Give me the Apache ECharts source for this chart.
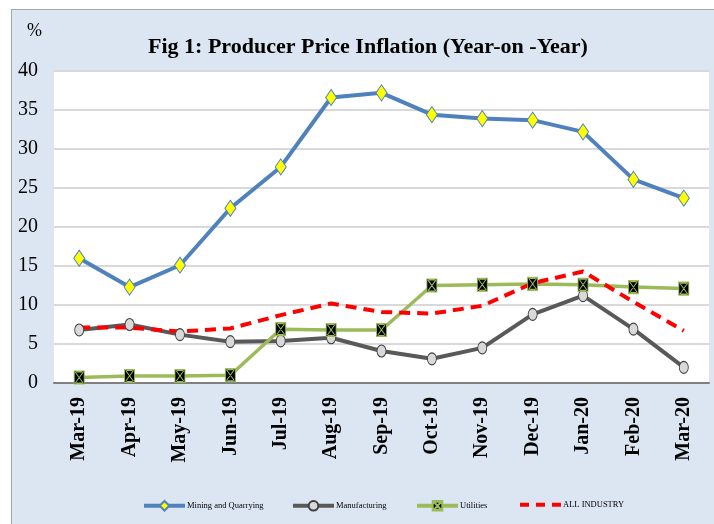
<!DOCTYPE html>
<html>
<head>
<meta charset="utf-8">
<script src="https://cdn.jsdelivr.net/npm/echarts@6/dist/echarts.min.js"></script>
<style>
html,body{margin:0;padding:0;background:#fff;}
#frame{position:absolute;left:11px;top:9px;width:703px;height:515px;background:#dce6f2;border-left:1.5px solid #a6a6a6;border-top:1.5px solid #a6a6a6;box-sizing:border-box;}
#chart{position:absolute;left:0;top:0;width:714px;height:524px;}
</style>
</head>
<body>
<div id="frame"></div>
<div id="chart"></div>
<script>
var categories = ['Mar-19','Apr-19','May-19','Jun-19','Jul-19','Aug-19','Sep-19','Oct-19','Nov-19','Dec-19','Jan-20','Feb-20','Mar-20'];
var mining = [16.0, 12.3, 15.1, 22.4, 27.7, 36.6, 37.2, 34.4, 33.9, 33.7, 32.2, 26.1, 23.7];
var manufacturing = [6.8, 7.5, 6.2, 5.3, 5.4, 5.8, 4.1, 3.1, 4.5, 8.8, 11.2, 6.9, 2.0];
var utilities = [0.7, 0.9, 0.9, 1.0, 6.9, 6.8, 6.8, 12.5, 12.6, 12.7, 12.6, 12.3, 12.1];
var allIndustry = [7.1, 7.1, 6.6, 7.0, 8.7, 10.2, 9.1, 8.9, 9.9, 12.8, 14.3, 10.4, 6.7];
var yTicks = [0, 5, 10, 15, 20, 25, 30, 35, 40];
var seriesNames = ['Mining and Quarrying', 'Manufacturing', 'Utilities', 'ALL INDUSTRY'];

var chart = echarts.init(document.getElementById('chart'), null, {renderer: 'canvas'});
var xSym = 'path://M0,0 L10,0 L10,13 L0,13 Z M1,1 L9,12 M9,1 L1,12 M2,1 L8,1 M2,12 L8,12';
var legendLefts = [137, 286, 410, 513];
var legendColors = ['#4f81bd', '#595959', '#9bbb59', '#ff0000'];
var legendText = {fontFamily: 'Liberation Serif', fontSize: 8.5, color: '#000', padding: [0, 0, 0, -3]};
var legends = seriesNames.map(function (n, i) {
  var d = {name: n, lineStyle: {width: 4, color: legendColors[i]}};
  if (i === 3) { d.itemStyle = {opacity: 0}; d.lineStyle.type = [9, 7]; }
  return {data: [d], left: legendLefts[i], top: 495, itemWidth: 41, itemHeight: 12, textStyle: legendText};
});
var option = {
  backgroundColor: 'transparent',
  animation: false,
  graphic: [
    {type: 'text', left: 27, top: 22, style: {text: '%', font: '18px "Liberation Serif"', fill: '#000'}},
    {type: 'text', x: 368, y: 47, style: {text: 'Fig 1: Producer Price Inflation (Year-on -Year)', font: 'bold 22px "Liberation Serif"', fill: '#000', textAlign: 'center', textVerticalAlign: 'middle'}}
  ],
  grid: {left: 54, right: 5, top: 71, bottom: 141, show: true, backgroundColor: '#ffffff', borderWidth: 0},
  legend: legends,
  xAxis: {
    type: 'category', data: categories, boundaryGap: true,
    axisLine: {lineStyle: {color: '#808080', width: 2}},
    axisTick: {show: false},
    axisLabel: {rotate: 90, margin: 14, fontFamily: 'Liberation Serif', fontWeight: 'bold', fontSize: 20, color: '#000'}
  },
  yAxis: {
    type: 'value', min: 0, max: 40, interval: 5,
    axisLine: {show: false}, axisTick: {show: false},
    splitLine: {lineStyle: {color: '#d9d9d9', width: 2}},
    axisLabel: {margin: 16, fontFamily: 'Liberation Serif', fontSize: 20, color: '#000',
      formatter: function(v){ return yTicks.indexOf(v) >= 0 ? String(v) : ''; }}
  },
  series: [
    {name: seriesNames[0], type: 'line', data: mining, symbol: 'diamond', symbolSize: [11, 16], showAllSymbol: true,
      lineStyle: {color: '#4f81bd', width: 4},
      itemStyle: {color: '#ffff00', borderColor: '#4f81bd', borderWidth: 1}},
    {name: seriesNames[1], type: 'line', data: manufacturing, symbol: 'circle', symbolSize: [9, 12], showAllSymbol: true,
      lineStyle: {color: '#595959', width: 4},
      itemStyle: {color: '#d9d9d9', borderColor: '#404040', borderWidth: 1}},
    {name: seriesNames[2], type: 'line', data: utilities, symbol: xSym, symbolSize: [10, 13], showAllSymbol: true,
      lineStyle: {color: '#9bbb59', width: 3.5},
      itemStyle: {color: '#000000', borderColor: '#9bbb59', borderWidth: 1}},
    {name: seriesNames[3], type: 'line', data: allIndustry, symbol: 'none',
      lineStyle: {color: '#ff0000', width: 4, type: [11, 7]},
      itemStyle: {color: '#ff0000'}}
  ]
};
chart.setOption(option);
</script>
</body>
</html>
